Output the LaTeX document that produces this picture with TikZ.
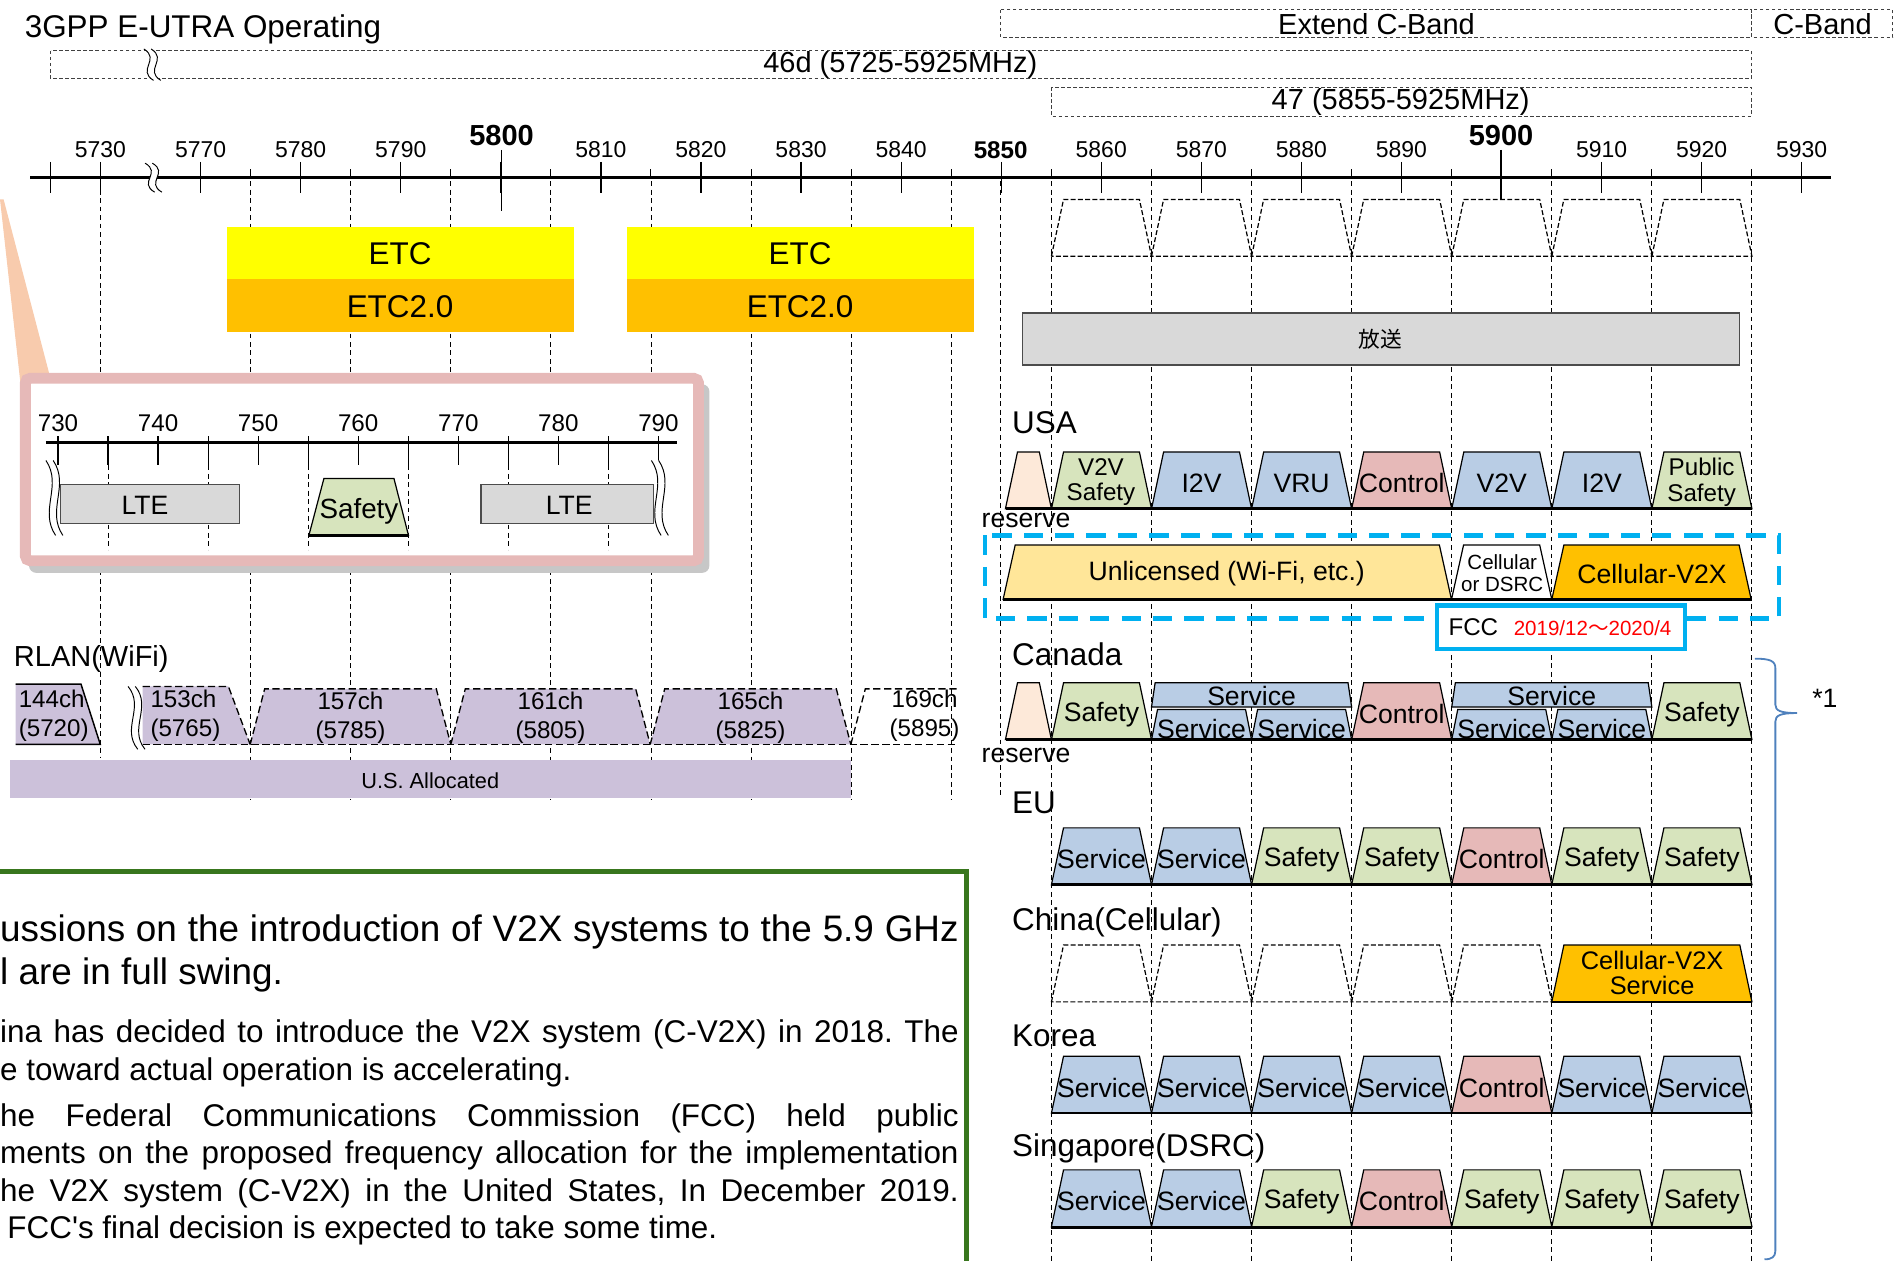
\documentclass[tikz,border=0pt]{standalone}
\usepackage{fontspec}
\setmainfont{Liberation Sans}
\newfontfamily\cjk{Noto Sans CJK JP}
\definecolor{chblue}{HTML}{B9CDE5}
\definecolor{chgreen}{HTML}{D7E4BD}
\definecolor{chpink}{HTML}{E6B9B8}
\definecolor{chpeach}{HTML}{FDE9D9}
\definecolor{wifi}{HTML}{CCC1DA}
\definecolor{grey85}{HTML}{D9D9D9}
\definecolor{etcyellow}{HTML}{FFFF00}
\definecolor{etcorange}{HTML}{FFC000}
\definecolor{unlic}{HTML}{FFE699}
\definecolor{fcccyan}{HTML}{00B0F0}
\definecolor{boxgreen}{HTML}{38761D}
\definecolor{insetpink}{HTML}{E6B9B8}
\definecolor{wedge}{HTML}{F8CBAD}
\definecolor{bracecol}{HTML}{4F81BD}

\tikzset{
  f17/.style={font=\fontsize{17}{18}\selectfont},
  f18/.style={font=\fontsize{18}{20}\selectfont},
  f19/.style={font=\fontsize{19}{21}\selectfont},
  f20/.style={font=\fontsize{20}{22}\selectfont},
  f22/.style={font=\fontsize{22}{24}\selectfont},
  f24/.style={font=\fontsize{24}{26}\selectfont},
  f26/.style={font=\fontsize{26}{30}\selectfont},
  f30/.style={font=\fontsize{30.5}{34}\selectfont},
  bold24/.style={font=\fontsize{24}{26}\selectfont\bfseries},
  bold20/.style={font=\fontsize{20}{22}\selectfont\bfseries},
  two/.style={align=center, font=\fontsize{20}{21}\selectfont},
  wifilbl/.style={align=center, font=\fontsize{20}{24}\selectfont},
  vline/.style={dash pattern=on 4pt off 3pt, line width=0.7},
  dashbox/.style={dash pattern=on 3pt off 2pt, line width=0.8, black!75},
  chlbl/.style={f22, inner sep=0pt},
  svc/.style={fill=chblue, draw=black, line width=1},
  sft/.style={fill=chgreen, draw=black, line width=1},
  ctl/.style={fill=chpink, draw=black, line width=1},
  rsv/.style={fill=chpeach, draw=black, line width=1},
  cvx/.style={fill=etcorange, draw=black, line width=1},
  emp/.style={fill=none, draw=black, line width=1, dash pattern=on 4pt off 2pt},
  rowbase/.style={line width=2.2},
  wifiedge/.style={line width=1.1, dash pattern=on 6pt off 3pt},
}

% one channel: name, row top, first edge, last edge, style, label
\newcommand{\chan}[6]{%
  \pgfmathsetmacro{\chL}{870+82.8*(#3)}%
  \pgfmathsetmacro{\chR}{870+82.8*(#4)}%
  \filldraw[#5] (\chL,#2+47) -- (\chL+10,#2) -- (\chR-10,#2) -- (\chR,#2+47) -- cycle;
  \node[chlbl] (#1) at ({(\chL+\chR)/2},#2+26) {#6};
}

% break mark: x, y, half height
\newcommand{\brk}[3]{%
  \fill[white] (#1-4,#2-#3) .. controls (#1+10,#2-#3/3) and (#1-10,#2+#3/3) .. (#1+4,#2+#3)
    -- (#1+10,#2+#3) .. controls (#1-4,#2+#3/3) and (#1+16,#2-#3/3) .. (#1+2,#2-#3) -- cycle;
  \draw[line width=0.8] (#1-4,#2-#3) .. controls (#1+10,#2-#3/3) and (#1-10,#2+#3/3) .. (#1+4,#2+#3);
  \draw[line width=0.8] (#1+2,#2-#3) .. controls (#1+16,#2-#3/3) and (#1-4,#2+#3/3) .. (#1+10,#2+#3);
}

\frenchspacing

\begin{document}
\begin{tikzpicture}[x=1pt, y=-1pt, declare function={fx(\m)=166+8.28*(\m-5770);}]

  \useasboundingbox (0,0) rectangle (1568,1043);

  % BANDS ON TOP
  \node[f26, anchor=west] (title) at (17,24) {3GPP E-UTRA Operating};
  \draw[dashbox] (828,8) rectangle (1449,31);
  \draw[dashbox] (1449,8) rectangle (1566,31);
  \draw[dashbox] (42,42) rectangle (1449,65);
  \draw[dashbox] (870,72) rectangle (1449,96);
  \node[f24] (extc) at (1139,20) {Extend C-Band};
  \node[f24] (cband) at (1508,20) {C-Band};
  \node[f24] (b46d) at (745,54) {46d (5725-5925MHz)};
  \node[f24] (b47) at (1159,84) {47 (5855-5925MHz)};
  \brk{123}{53.5}{13}

  % GRID LINES
  \foreach \f in {5775,5785,...,5845}{
    \draw[vline] ({fx(\f)},150) -- ({fx(\f)},662);
  }
  \foreach \f in {5855,5865,...,5925}{
    \draw[vline] ({fx(\f)},150) -- ({fx(\f)},1043);
  }
  \draw[vline] (83,150) -- (83,627);
  \draw[vline] (828,150) -- (828,660);

  % AXIS
  \draw[line width=3] (25,147) -- (1515,147);
  \foreach \f in {5770,5780,...,5930}{
    \draw[line width=1] ({fx(\f)},134) -- ++(0,26);
  }
  \foreach \f in {5775,5785,...,5925}{
    \draw[line width=0.8] ({fx(\f)},140) -- ++(0,7);
  }
  \draw[line width=1] (83,134) -- ++(0,26);
  \draw[line width=1] (42,134) -- ++(0,26);
  \draw[line width=1] (415,124) -- (415,175);
  \draw[line width=1] (1242,124) -- (1242,165);
  \foreach \f in {5770,5780,5790,5810,5820,5830,5840,5860,5870,5880,5890,5910,5920,5930}{
    \node[f19] (t\f) at ({fx(\f)},124) {\f};
  }
  \node[f19] (t5730) at (83,124) {5730};
  \node[bold24] (t5800) at (415,112) {5800};
  \node[bold24] (t5900) at (1242,112) {5900};
  \node[bold20] (t5850) at (828,124) {5850};
  \brk{124}{147}{12}

  % ETC
  \fill[etcyellow] (188,188) rectangle (475,231);
  \fill[etcorange] (188,231) rectangle (475,275);
  \fill[etcyellow] (519,188) rectangle (806,231);
  \fill[etcorange] (519,231) rectangle (806,275);
  \node[f26] (etc1) at (331,210) {ETC};
  \node[f26] (etcb1) at (331,254) {ETC2.0};
  \node[f26] (etc2) at (662,210) {ETC};
  \node[f26] (etcb2) at (662,254) {ETC2.0};

  % EMPTY CHANNELS AND BROADCAST
  \foreach \i in {0,...,6}{
    \chan{top\i}{165}{\i}{\i+1}{emp}{}
  }
  \filldraw[fill=grey85, draw=black!70, line width=1] (846,259) rectangle (1439,302);
  \node[f18] (hoso) at (1142,281) {\cjk 放送};

  % USA
  \node[f26, anchor=west] (lusa) at (834,350) {USA};
  \chan{usar}{374}{-0.46}{0}{rsv}{}
  \foreach \st/\lb [count=\i from 0] in {sft/{}, svc/I2V, svc/VRU, ctl/Control, svc/V2V, svc/I2V, sft/{}}{
    \chan{usa\i}{374}{\i}{\i+1}{\st}{\lb}
  }
  \node[two] (usav2v) at (911,399) {V2V\\Safety};
  \node[two] (usaps) at (1408,399) {Public\\Safety};
  \draw[rowbase] (832,421) -- (1449.6,421);
  \node[f22] (rsvusa) at (849,431) {reserve};

  % FCC PROPOSAL
  \draw[fcccyan, line width=4, dash pattern=on 16pt off 10pt] (815,443) rectangle (1472,512);
  \filldraw[fill=unlic, draw=black, line width=1] (830,496) -- (840,451) -- (1191,451) -- (1201,496) -- cycle;
  \filldraw[fill=white, draw=black, line width=1] (1201,496) -- (1211,451) -- (1274,451) -- (1284,496) -- cycle;
  \filldraw[cvx] (1284,496) -- (1294,451) -- (1439,451) -- (1449,496) -- cycle;
  \draw[rowbase] (830,496) -- (1449.6,496);
  \node[f22] (unlic) at (1015,475) {Unlicensed (Wi-Fi, etc.)};
  \node[align=center, font=\fontsize{17}{18}\selectfont] (cord) at (1243,474) {Cellular\\or DSRC};
  \node[f22] (cv2x) at (1367,475) {Cellular-V2X};
  \filldraw[fill=white, draw=fcccyan, line width=3.5] (1189,501) rectangle (1394,537);
  \node[f20, anchor=west] (fcc) at (1195,519) {FCC};
  \node[f17, anchor=west, red] (fccdate) at (1249,520) {2019/12{\cjk ～}2020/4};

  % CANADA
  \node[f26, anchor=west] (lcan) at (834,541) {Canada};
  \chan{canr}{565}{-0.46}{0}{rsv}{}
  \chan{can0}{565}{0}{1}{sft}{Safety}
  \chan{can3}{565}{3}{4}{ctl}{Control}
  \chan{can6}{565}{6}{7}{sft}{Safety}
  \foreach \j/\xs in {1/952.8, 4/1201.2}{
    \filldraw[svc] (\xs,585) -- (\xs+3,565) -- (\xs+162.6,565) -- (\xs+165.6,585) -- cycle;
    \filldraw[svc] (\xs,612) -- (\xs+5,587) -- (\xs+77.8,587) -- (\xs+82.8,612) -- cycle;
    \filldraw[svc] (\xs+82.8,612) -- (\xs+87.8,587) -- (\xs+160.6,587) -- (\xs+165.6,612) -- cycle;
    \node[chlbl] (cansv\j) at (\xs+82.8,576) {Service};
    \node[chlbl] (cansa\j) at (\xs+41.4,603) {Service};
    \node[chlbl] (cansb\j) at (\xs+124.2,603) {Service};
  }
  \draw[rowbase] (832,612) -- (1449.6,612);
  \node[f22] (rsvcan) at (849,625) {reserve};

  % EU
  \node[f26, anchor=west] (leu) at (834,664) {EU};
  \foreach \st/\lb [count=\i from 0] in {svc/Service, svc/Service, sft/Safety, sft/Safety, ctl/Control, sft/Safety, sft/Safety}{
    \chan{eu\i}{685}{\i}{\i+1}{\st}{\lb}
  }
  \draw[rowbase] (870,732) -- (1449.6,732);

  % CHINA
  \node[f26, anchor=west] (lchina) at (834,763) {China(Cellular)};
  \foreach \i in {0,...,4}{
    \chan{cn\i}{782}{\i}{\i+1}{emp}{}
  }
  \chan{cn5}{782}{5}{7}{cvx}{}
  \node[align=center, font=\fontsize{21}{20}\selectfont] (cncv) at (1367,805) {Cellular-V2X\\Service};
  \draw[rowbase] (1284,829) -- (1449.6,829);

  % KOREA
  \node[f26, anchor=west] (lkorea) at (834,857) {Korea};
  \foreach \st/\lb [count=\i from 0] in {svc/Service, svc/Service, svc/Service, svc/Service, ctl/Control, svc/Service, svc/Service}{
    \chan{kr\i}{874}{\i}{\i+1}{\st}{\lb}
  }
  \draw[rowbase] (870,921) -- (1449.6,921);

  % SINGAPORE
  \node[f26, anchor=west] (lsg) at (834,950) {Singapore(DSRC)};
  \foreach \st/\lb [count=\i from 0] in {svc/Service, svc/Service, sft/Safety, ctl/Control, sft/Safety, sft/Safety, sft/Safety}{
    \chan{sg\i}{968}{\i}{\i+1}{\st}{\lb}
  }
  \draw[rowbase] (870,1016) -- (1449.6,1016);

  % BRACE
  \draw[bracecol, line width=1.5] (1452,545) .. controls (1465,545) and (1469,547) .. (1469,553)
    -- (1469,583) .. controls (1469,588) and (1473,590) .. (1487,590)
    .. controls (1473,590) and (1469,592) .. (1469,597) -- (1469,1035)
    .. controls (1469,1040) and (1466,1042) .. (1460,1042);
  \node[f22] (note1) at (1510,578) {*1};

  % INSET 700MHz
  \fill[wedge] (0,165) -- (3,165) -- (42,314) -- (17,318) -- cycle;
  \fill[black!22, rounded corners=6] (24,318) rectangle (587,474);
  \filldraw[fill=white, draw=insetpink, line width=9, rounded corners=4] (21,313) rectangle (578,464);
  \foreach \k in {0,...,5}{
    \draw[vline] ({89.4+82.8*\k},385) -- ({89.4+82.8*\k},455);
    \draw[line width=1] ({89.4+82.8*\k},361) -- ({89.4+82.8*\k},385);
  }
  \draw[line width=3] (38,366) -- (560,366);
  \foreach \k [evaluate=\k as \lab using int(730+10*\k)] in {0,...,6}{
    \draw[line width=1] ({48+82.8*\k},361) -- ({48+82.8*\k},385);
    \node[f20] (i\lab) at ({48+82.8*\k},350) {\lab};
  }
  \filldraw[fill=grey85, draw=black!70, line width=1] (50,401) rectangle (198,433);
  \filldraw[fill=grey85, draw=black!70, line width=1] (398,401) rectangle (541,433);
  \node[f22] (lte1) at (120,418) {LTE};
  \node[f22] (lte2) at (471,418) {LTE};
  \filldraw[sft] (255.6,443) -- (268,396) -- (326,396) -- (338,443) -- cycle;
  \draw[rowbase] (255.6,443) -- (338,443);
  \node[font=\fontsize{23}{24}\selectfont] (isafe) at (297,423) {Safety};
  \brk{42}{412}{31}
  \brk{543}{412}{31}

  % WIFI
  \node[f24, anchor=west] (rlan) at (8,545) {RLAN(WiFi)};
  \fill[wifi] (13,566) -- (67,566) -- (83,616) -- (13,616) -- cycle;
  \draw[line width=1.2] (13,566) -- (67,566) -- (83,616) -- (13,616);
  \node[wifilbl, align=left, anchor=west] (w144) at (12,592) {144ch\\(5720)};
  \fill[wifi] (118,568) -- (189,568) -- (207,616) -- (118,616) -- cycle;
  \draw[wifiedge] (118,568) -- (189,568) -- (207,616);
  \node[wifilbl, align=left, anchor=west] (w153) at (121,592) {153ch\\(5765)};
  \foreach \a/\b/\nm/\fq in {207/373/157/5785, 373/538/161/5805, 538/704/165/5825}{
    \fill[wifi] (\a,616) -- (\a+12,570) -- (\b-12,570) -- (\b,616) -- cycle;
    \draw[wifiedge] (\a,616) -- (\a+12,570) -- (\b-12,570) -- (\b,616);
    \node[wifilbl] (w\nm) at ({(\a+\b)/2},594) {\nm ch\\(\fq)};
  }
  \draw[wifiedge] (704,616) -- (716,570) -- (792,570);
  \node[wifilbl] (w169) at (765,592) {169ch\\(5895)};
  \draw[wifiedge] (118,616) -- (792,616);
  \brk{110}{594}{26}
  \fill[wifi] (8,629) rectangle (704,660);
  \node[f18] (usalloc) at (356,646) {U.S. Allocated};

  % TEXT BOX
  \draw[boxgreen, line width=4] (-10,721) rectangle (800,1060);
  \node[f30, anchor=base west, inner sep=0pt] (p1) at (0,779) {\makebox[793pt][s]{ussions on the introduction of V2X systems to the 5.9 GHz}};
  \node[f30, anchor=base west, inner sep=0pt] (p2) at (0,815) {l are in full swing.};
  \node[f26, anchor=base west, inner sep=0pt] (p3) at (0,863) {\makebox[793pt][s]{ina has decided to introduce the V2X system (C-V2X) in 2018. The}};
  \node[f26, anchor=base west, inner sep=0pt] (p4) at (0,894) {e toward actual operation is accelerating.};
  \node[f26, anchor=base west, inner sep=0pt] (p5) at (0,932) {\makebox[793pt][s]{he Federal Communications Commission (FCC) held public}};
  \node[f26, anchor=base west, inner sep=0pt] (p6) at (0,963) {\makebox[793pt][s]{ments on the proposed frequency allocation for the implementation}};
  \node[f26, anchor=base west, inner sep=0pt] (p7) at (0,994) {\makebox[793pt][s]{he V2X system (C-V2X) in the United States, In December 2019.}};
  \node[f26, anchor=base west, inner sep=0pt] (p8) at (6,1025) {FCC\textquotesingle s final decision is expected to take some time.};

\end{tikzpicture}
\end{document}
